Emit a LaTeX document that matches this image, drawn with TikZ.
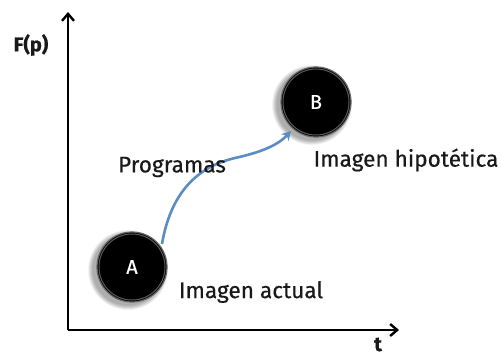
\documentclass[tikz,border=0pt]{standalone}
\usepackage{fontspec}
\setmainfont{Fira Sans}[FakeBold=0.5]
\newfontfamily\lblfont{Fira Sans}[FakeBold=0.4]
\usetikzlibrary{arrows.meta}
\definecolor{arrowblue}{HTML}{5B8CC4}
\tikzset{
  axis/.style={line width=2.4pt, black, -{Straight Barb[length=7pt,width=12pt,line width=2.4pt]}},
  lbl/.style={font=\lblfont\fontsize{22.6}{26}\selectfont, text=black!90, inner sep=0pt},
  axlbl/.style={font=\bfseries\fontsize{20}{23}\selectfont, text=black!90, inner sep=0pt},
  ball/.style={circle, minimum size=70pt, inner sep=0pt, fill=black, draw=black!60, line width=1.2pt,
     text=white, font=\lblfont\fontsize{20}{23}\selectfont},
  prog/.style={line width=2.6pt, arrowblue, -{Stealth[length=9pt,width=10pt]}}
}
\newcommand{\softshadow}[2]{%
  \foreach \k in {1,...,10}{
    \fill[black, opacity=0.035] (#1) ++(-4pt,-3pt) circle ({35pt+#2*\k*0.5pt});
  }
}
\begin{document}
\begin{tikzpicture}[x=1pt,y=-1pt]
\useasboundingbox (0,0) rectangle (501,356);
\fill[white] (0,0) rectangle (501,356);
\coordinate (O) at (68,330);
\coordinate (Ytop) at (68,12);
\coordinate (Xend) at (399,330);
\draw[axis] (O) -- (Ytop);
\draw[axis] (O) -- (Xend);
\node[axlbl] (Fp) at (31,45) {F(p)};
\node[axlbl, anchor=base] (t) at (378,351) {t};
% shadows
\coordinate (Ac) at (132,267);
\coordinate (Bc) at (316,102);
\softshadow{Ac}{1}
\softshadow{Bc}{1}
\node[ball] (A) at (Ac) {A};
\node[ball] (B) at (Bc) {B};
\draw[white, opacity=0.35, line width=1pt] (A.center) circle (33pt);
\draw[white, opacity=0.35, line width=1pt] (B.center) circle (33pt);
\draw[prog] (162,244) .. controls (172,185) and (205,165) .. (235,158)
            .. controls (262,152) and (278,145) .. (291,131);
\node[lbl] (prog) at (172,167) {Programas};
\node[lbl] (hipo) at (406,160) {Imagen hipotética};
\node[lbl] (act) at (251,292) {Imagen actual};
\end{tikzpicture}
\end{document}
